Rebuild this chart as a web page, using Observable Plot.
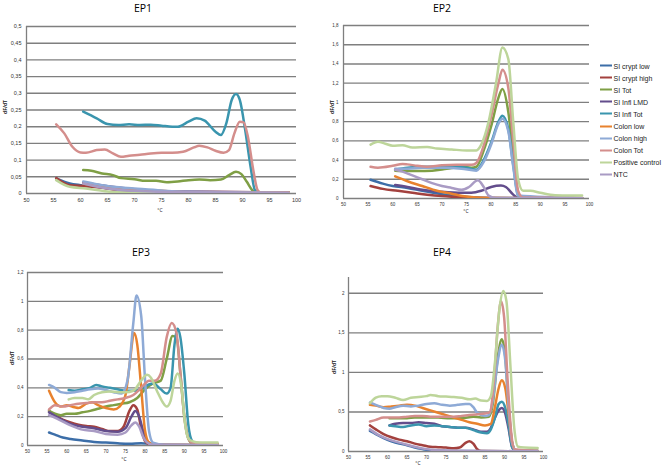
<!DOCTYPE html>
<html>
<head>
<meta charset="utf-8">
<script src="https://cdn.jsdelivr.net/npm/d3@7"></script>
<script src="https://cdn.jsdelivr.net/npm/@observablehq/plot@0.6"></script>
<style>
  html, body { margin: 0; padding: 0; background: #fff; }
  #root { position: relative; width: 662px; height: 468px; overflow: hidden; font-family: "Open Sans", "Liberation Sans", sans-serif; }
  .abs { position: absolute; }
  .title { font-size: 10.5px; color: #000; transform: translate(-50%, -50%); white-space: nowrap; }
  .ylab { font-size: 5px; font-weight: bold; color: #222; transform: translate(-50%, -50%) rotate(-90deg); white-space: nowrap; }
  .xlab { font-size: 5px; color: #222; transform: translate(-50%, -50%); white-space: nowrap; }
  .leg { font-size: 7px; color: #222; white-space: nowrap; display: flex; align-items: center; transform: translateY(-50%); font-family: "Liberation Sans", sans-serif; }
  .sw { width: 12px; height: 2px; margin-right: 1.5px; }
</style>
</head>
<body>
<div id="root"></div>
<script>
// ---------- data ----------
const seriesNames = ["SI crypt low", "SI crypt high", "SI Tot", "SI Infl LMD", "SI Infl Tot",
  "Colon low", "Colon high", "Colon Tot", "Positive control", "NTC"];
const seriesColors = ["#3c6ea8", "#a3413e", "#7f9f45", "#634d8c", "#3a95ae",
  "#e8822e", "#8eaad6", "#d48e8c", "#bdd59a", "#a99bc4"];

const xTicks = [50, 55, 60, 65, 70, 75, 80, 85, 90, 95, 100];
const ep1Ticks = [0, 0.05, 0.1, 0.15, 0.2, 0.25, 0.3, 0.35, 0.4, 0.45, 0.5];
const ep2Ticks = [0, 0.2, 0.4, 0.6, 0.8, 1, 1.2, 1.4, 1.6, 1.8];
const ep3Ticks = [0, 0.2, 0.4, 0.6, 0.8, 1, 1.2];
const ep4Ticks = [0, 0.5, 1, 1.5, 2];

const EP1 = {
  "SI crypt low": [[55.5,0.045],[58,0.03],[60,0.025],[63,0.02],[66,0.014],[70,0.01],[75,0.006],[80,0.004],[90,0.003],[98.5,0.002]],
  "SI crypt high": [[55.5,0.046],[58,0.025],[61,0.022],[64,0.017],[66,0.012],[70,0.008],[75,0.006],[80,0.005],[98.5,0.003]],
  "SI Tot": [[60.5,0.07],[62,0.068],[64,0.06],[66,0.055],[67.5,0.046],[70,0.043],[72,0.038],[74,0.038],[76,0.034],[78,0.036],[80,0.04],[82,0.042],[84,0.04],[86,0.042],[87.5,0.055],[88.8,0.065],[89.8,0.058],[90.8,0.035],[91.8,0.01],[92.5,0.002],[98.5,0.002]],
  "SI Infl LMD": [[60.5,0.033],[65,0.022],[70,0.013],[75,0.007],[80,0.005],[98.5,0.003]],
  "SI Infl Tot": [[60.5,0.245],[63,0.225],[65,0.208],[67,0.205],[69,0.207],[71,0.205],[73,0.206],[75,0.203],[77,0.2],[78,0.2],[80,0.215],[81.5,0.225],[83,0.218],[85,0.185],[86,0.175],[87,0.21],[88,0.28],[88.8,0.298],[89.5,0.28],[90.5,0.19],[91.5,0.08],[92.3,0.01],[93,0.003],[95,0.003],[98.5,0.002]],
  "Colon low": [[60.5,0.03],[65,0.018],[70,0.012],[75,0.008],[80,0.004],[90,0.004],[98.5,0.004]],
  "Colon high": [[60.5,0.036],[63,0.028],[66,0.02],[70,0.015],[75,0.009],[80,0.005],[98.5,0.002]],
  "Colon Tot": [[55.5,0.207],[57,0.18],[58.5,0.14],[60,0.123],[61,0.122],[63,0.13],[64.5,0.132],[66,0.12],[67.5,0.11],[69,0.113],[71,0.116],[73,0.12],[75,0.122],[77,0.122],[79,0.125],[81,0.138],[82,0.143],[83.5,0.138],[85,0.128],[86.5,0.122],[87.5,0.13],[88.5,0.18],[89.5,0.215],[90.2,0.213],[91,0.17],[92,0.07],[92.8,0.01],[93.5,0.002],[98.5,0.002]],
  "Positive control": [[55.5,0.04],[58,0.02],[61,0.015],[65,0.006],[70,0.003],[98.5,0.001]],
  "NTC": [[60.5,0.03],[65,0.015],[70,0.008],[75,0.005],[98.5,0.002]]
};

const EP2 = {
  "SI crypt low": [[55.5,0.195],[58,0.155],[60,0.13],[63,0.11],[66,0.08],[70,0.045],[73,0.025],[76,0.012],[80,0.005],[98.5,0.002]],
  "SI crypt high": [[55.5,0.13],[58,0.1],[61,0.08],[64,0.06],[67,0.04],[70,0.025],[73,0.015],[76,0.008],[80,0.004],[98.5,0.002]],
  "SI Tot": [[60.5,0.29],[63,0.285],[65,0.285],[68,0.29],[71,0.31],[74,0.33],[76,0.32],[77,0.33],[78.5,0.5],[80,0.75],[81.5,1.05],[82.3,1.14],[83.5,0.9],[84.5,0.45],[85.5,0.05],[86.5,0.01],[98.5,0.005]],
  "SI Infl LMD": [[60.5,0.14],[63,0.12],[66,0.09],[70,0.07],[74,0.06],[76,0.06],[78,0.08],[80,0.12],[82,0.135],[83,0.12],[84.5,0.04],[85.5,0.005],[98.5,0.002]],
  "SI Infl Tot": [[60.5,0.3],[63,0.32],[66,0.33],[69,0.33],[72,0.33],[75,0.32],[77,0.3],[78.5,0.4],[80,0.58],[81.5,0.8],[82.3,0.86],[83.5,0.72],[84.5,0.35],[85.5,0.03],[86.5,0.005],[98.5,0.003]],
  "Colon low": [[60.5,0.23],[63,0.18],[66,0.13],[69,0.08],[72,0.05],[75,0.02],[77,0.01],[80,0.005],[98.5,0.002]],
  "Colon high": [[60.5,0.31],[63,0.31],[66,0.32],[70,0.32],[74,0.31],[77,0.29],[78.5,0.38],[80,0.56],[81.5,0.78],[82.3,0.83],[83.5,0.7],[84.5,0.33],[85.5,0.03],[98.5,0.003]],
  "Colon Tot": [[55.5,0.33],[57,0.32],[60,0.34],[62,0.36],[63,0.355],[65,0.34],[67,0.33],[70,0.345],[73,0.35],[76,0.35],[77,0.37],[78.5,0.55],[80,0.85],[81.5,1.2],[82.3,1.34],[83.5,1.15],[84.5,0.6],[85.5,0.08],[86.5,0.01],[98.5,0.005]],
  "Positive control": [[55.5,0.56],[57,0.59],[58.5,0.57],[60,0.55],[62,0.555],[64,0.53],[67,0.535],[69,0.52],[72,0.51],[75,0.5],[77,0.5],[78,0.56],[79.5,0.8],[81,1.2],[82.3,1.57],[83.5,1.45],[84.5,0.8],[85.5,0.2],[86.5,0.08],[88,0.08],[90,0.06],[93,0.035],[96,0.03],[98.5,0.03]],
  "NTC": [[60.5,0.3],[62,0.28],[64,0.24],[66,0.2],[68,0.16],[70,0.13],[72,0.11],[74,0.09],[75.5,0.12],[77.3,0.19],[78.5,0.12],[79.5,0.03],[81,0.005],[98.5,0.002]]
};

const EP3 = {
  "SI crypt low": [[55.5,0.09],[57,0.075],[59,0.055],[61,0.045],[64,0.035],[67,0.025],[70,0.02],[73,0.015],[76,0.012],[79,0.015],[80.5,0.013],[82,0.005],[85,0.002],[98.5,0.002]],
  "SI crypt high": [[55.5,0.24],[57,0.21],[59,0.18],[61,0.16],[63,0.145],[65,0.135],[67,0.13],[69,0.115],[71,0.1],[73,0.1],[74.5,0.13],[76,0.24],[77,0.28],[78,0.25],[79,0.12],[80,0.03],[81.5,0.005],[98.5,0.002]],
  "SI Tot": [[55.5,0.24],[57,0.22],[58.5,0.21],[60,0.22],[62,0.22],[64,0.23],[66,0.24],[68,0.255],[70,0.27],[72,0.28],[74,0.29],[76,0.3],[78,0.33],[80,0.39],[82,0.43],[84,0.45],[85.5,0.6],[87,0.76],[88,0.75],[89,0.5],[90,0.2],[91,0.05],[92,0.015],[98.5,0.01]],
  "SI Infl LMD": [[55.5,0.23],[58,0.19],[61,0.15],[64,0.13],[67,0.12],[70,0.1],[73,0.095],[75,0.12],[76.5,0.2],[77.5,0.24],[78.5,0.2],[79.5,0.1],[80.5,0.03],[82,0.01],[85,0.003],[98.5,0.002]],
  "SI Infl Tot": [[60.5,0.385],[62,0.38],[64,0.39],[66,0.4],[67.5,0.42],[69,0.41],[71,0.4],[73,0.39],[75,0.38],[77,0.38],[79,0.39],[80,0.41],[82,0.43],[84,0.39],[85.5,0.36],[86.5,0.4],[87.5,0.7],[88.3,0.81],[89,0.75],[90,0.5],[91,0.15],[92,0.03],[93,0.01],[98.5,0.005]],
  "Colon low": [[55.5,0.38],[57,0.3],[58.5,0.27],[60,0.28],[62,0.265],[63,0.26],[65,0.29],[66.5,0.3],[68,0.28],[70,0.26],[72,0.25],[73.5,0.27],[75,0.35],[76,0.55],[77.2,0.78],[78,0.7],[79,0.4],[80,0.1],[81,0.02],[83,0.005],[98.5,0.003]],
  "Colon high": [[55.5,0.42],[57,0.4],[58.5,0.37],[60,0.365],[62,0.37],[64,0.38],[66,0.39],[68,0.395],[70,0.385],[72,0.37],[74,0.36],[75.5,0.45],[77,0.85],[77.8,1.04],[79,0.9],[80,0.45],[81,0.1],[82,0.02],[85,0.005],[98.5,0.003]],
  "Colon Tot": [[55.5,0.25],[57,0.28],[59,0.27],[61,0.28],[63,0.29],[65,0.295],[67,0.3],[69,0.3],[71,0.31],[73,0.32],[75,0.33],[77,0.35],[79,0.4],[81,0.45],[82.5,0.45],[84,0.5],[85.5,0.75],[86.8,0.85],[88,0.78],[89,0.5],[90,0.2],[91,0.05],[92,0.02],[98.5,0.01]],
  "Positive control": [[60.5,0.32],[62,0.33],[64,0.33],[65.5,0.32],[67,0.35],[69,0.37],[71,0.375],[73,0.37],[75,0.37],[77,0.38],[79,0.45],[80.5,0.49],[81.5,0.47],[83,0.38],[84.5,0.3],[85.5,0.27],[86.5,0.31],[87.5,0.45],[88.3,0.5],[89.3,0.4],[90.2,0.15],[91,0.05],[92,0.03],[94,0.02],[98.5,0.02]],
  "NTC": [[55.5,0.21],[58,0.18],[61,0.14],[64,0.11],[67,0.1],[70,0.08],[73,0.075],[75,0.09],[76.5,0.14],[77.5,0.16],[78.5,0.13],[79.5,0.06],[80.5,0.02],[82,0.005],[98.5,0.002]]
};

const EP4 = {
  "SI crypt low": [[55.5,0.26],[57,0.22],[59,0.17],[61,0.13],[63,0.1],[65,0.08],[67,0.05],[69,0.03],[71,0.015],[74,0.008],[78,0.005],[98.5,0.003]],
  "SI crypt high": [[55.5,0.33],[57,0.28],[59,0.22],[61,0.18],[63,0.15],[65,0.13],[67,0.1],[69,0.08],[71,0.06],[73,0.055],[75,0.05],[77,0.04],[78.5,0.05],[80,0.11],[81,0.13],[82,0.1],[83,0.03],[84,0.005],[98.5,0.003]],
  "SI Tot": [[60.5,0.42],[63,0.42],[65,0.42],[67,0.43],[70,0.43],[73,0.43],[76,0.42],[79,0.42],[82,0.44],[84,0.43],[86,0.44],[87,0.6],[88.3,1.2],[89.3,1.42],[90.2,1.2],[91,0.6],[92,0.1],[93,0.01],[98.5,0.005]],
  "SI Infl LMD": [[60.5,0.33],[62,0.35],[64,0.36],[66,0.36],[68,0.37],[70,0.36],[72,0.35],[74,0.32],[76,0.31],[78,0.3],[80,0.3],[82,0.28],[84,0.25],[85.5,0.25],[86.5,0.3],[87.5,0.42],[88.5,0.52],[89.3,0.55],[90.2,0.48],[91,0.3],[92,0.05],[93,0.01],[98.5,0.005]],
  "SI Infl Tot": [[60.5,0.33],[62,0.32],[64,0.31],[66,0.33],[68,0.34],[70,0.32],[72,0.33],[74,0.32],[76,0.31],[78,0.3],[80,0.3],[82,0.27],[84,0.24],[85.5,0.23],[86.5,0.28],[87.5,0.42],[88.5,0.6],[89.3,0.63],[90.2,0.55],[91,0.35],[92,0.05],[93,0.01],[98.5,0.005]],
  "Colon low": [[55.5,0.59],[57,0.58],[59,0.56],[61,0.57],[63,0.58],[65,0.59],[67,0.58],[69,0.55],[71,0.52],[73,0.49],[75,0.46],[77,0.43],[79,0.4],[81,0.37],[83,0.35],[85,0.33],[86.5,0.35],[87.5,0.55],[88.5,0.8],[89.3,0.9],[90.2,0.8],[91,0.5],[92,0.1],[93,0.01],[98.5,0.005]],
  "Colon high": [[55.5,0.62],[57,0.59],[59,0.55],[60.5,0.54],[62,0.56],[64,0.58],[66,0.57],[68,0.58],[70,0.6],[72,0.61],[74,0.59],[76,0.58],[78,0.59],[80,0.6],[81,0.6],[82,0.56],[83,0.49],[85,0.45],[86,0.46],[87,0.65],[88.3,1.15],[89.3,1.35],[90.2,1.15],[91,0.6],[92,0.1],[93,0.01],[98.5,0.005]],
  "Colon Tot": [[55.5,0.38],[57,0.4],[59,0.43],[61,0.43],[63,0.43],[65,0.44],[67,0.45],[69,0.45],[71,0.44],[73,0.44],[75,0.44],[77,0.44],[79,0.45],[81,0.46],[83,0.47],[85,0.48],[86.3,0.5],[87.3,0.9],[88.3,1.6],[89.1,1.9],[89.9,1.7],[90.8,0.9],[91.8,0.2],[92.5,0.03],[98.5,0.01]],
  "Positive control": [[55.5,0.61],[57,0.68],[58.5,0.7],[60,0.7],[62,0.68],[64,0.65],[66,0.68],[68,0.69],[70,0.7],[71,0.715],[73,0.7],[75,0.695],[77,0.69],[79,0.68],[81,0.66],[82.5,0.67],[84,0.645],[85.5,0.64],[86.5,0.7],[87.5,1.1],[88.7,1.8],[89.7,2.03],[90.5,1.9],[91.5,1.1],[92.5,0.3],[93.5,0.06],[95,0.05],[98.5,0.045]],
  "NTC": [[55.5,0.28],[58,0.2],[61,0.14],[64,0.1],[67,0.06],[70,0.03],[73,0.015],[77,0.008],[98.5,0.003]]
};

// ---------- drawing ----------
const root = document.getElementById("root");
const gridColor = "#7f7f7f";
const fmt = (d) => d3.format(".2~f")(d).replace(".", ",");

function panel(cfg) {
  const marks = [
    Plot.ruleY(cfg.yTicks, {stroke: gridColor, strokeWidth: 1.4}),
    Plot.ruleX([50], {stroke: gridColor, strokeWidth: 1.3})
  ];
  seriesNames.forEach((name, i) => {
    marks.push(Plot.line(cfg.data[name], {
      x: (d) => d[0], y: (d) => d[1],
      stroke: seriesColors[i], strokeWidth: 2.5, curve: "monotone-x", clip: true
    }));
  });
  const svg = Plot.plot({
    width: cfg.width, height: cfg.height,
    marginLeft: cfg.ml, marginRight: cfg.mr, marginTop: cfg.mt, marginBottom: cfg.mb,
    style: {fontSize: cfg.fs + "px", fontFamily: "'Liberation Sans', sans-serif", color: "#333", background: "transparent", overflow: "visible"},
    x: {domain: [50, 100], ticks: xTicks, tickSize: 0, tickPadding: cfg.xpad, label: null, tickFormat: (d) => String(d)},
    y: {domain: [0, cfg.yMax], ticks: cfg.yTicks, tickSize: 0, tickPadding: cfg.ypad, label: null, tickFormat: fmt},
    marks
  });
  svg.style.position = "absolute";
  svg.style.left = cfg.left + "px";
  svg.style.top = cfg.top + "px";
  root.appendChild(svg);
}

function label(cls, text, x, y) {
  const el = document.createElement("div");
  el.className = "abs " + cls;
  el.textContent = text;
  el.style.left = x + "px";
  el.style.top = y + "px";
  root.appendChild(el);
}

panel({data: EP1, left: 0, top: 0, width: 330, height: 220, ml: 26, mr: 34, mt: 26, mb: 27,
  yMax: 0.5, yTicks: ep1Ticks, fs: 5.5, xpad: 5, ypad: 5});
panel({data: EP2, left: 330, top: 0, width: 332, height: 220, ml: 13, mr: 73, mt: 25, mb: 22,
  yMax: 1.8, yTicks: ep2Ticks, fs: 4.5, xpad: 4, ypad: 5});
panel({data: EP3, left: 0, top: 220, width: 330, height: 248, ml: 27, mr: 107, mt: 52, mb: 23,
  yMax: 1.2, yTicks: ep3Ticks, fs: 4.5, xpad: 4, ypad: 4});
panel({data: EP4, left: 330, top: 220, width: 332, height: 248, ml: 18, mr: 119, mt: 57, mb: 17,
  yMax: 2.2, yTicks: ep4Ticks, fs: 4.5, xpad: 4, ypad: 4});

label("title", "EP1", 143, 8);
label("title", "EP2", 442, 8);
label("title", "EP3", 141, 252);
label("title", "EP4", 442, 252);

label("ylab", "dF/dT", 5, 107);
label("ylab", "dF/dT", 332, 107);
label("ylab", "dF/dT", 12, 358);
label("ylab", "dF/dT", 334, 367);

label("xlab", "°C", 160, 210);
label("xlab", "°C", 466, 211);
label("xlab", "°C", 124, 459);
label("xlab", "°C", 418, 463);

// legend
seriesNames.forEach((name, i) => {
  const row = document.createElement("div");
  row.className = "abs leg";
  row.style.left = "600px";
  row.style.top = (65.5 + i * 12.1) + "px";
  const sw = document.createElement("div");
  sw.className = "sw";
  sw.style.background = seriesColors[i];
  const t = document.createElement("span");
  t.textContent = name;
  row.appendChild(sw);
  row.appendChild(t);
  root.appendChild(row);
});
</script>
</body>
</html>
